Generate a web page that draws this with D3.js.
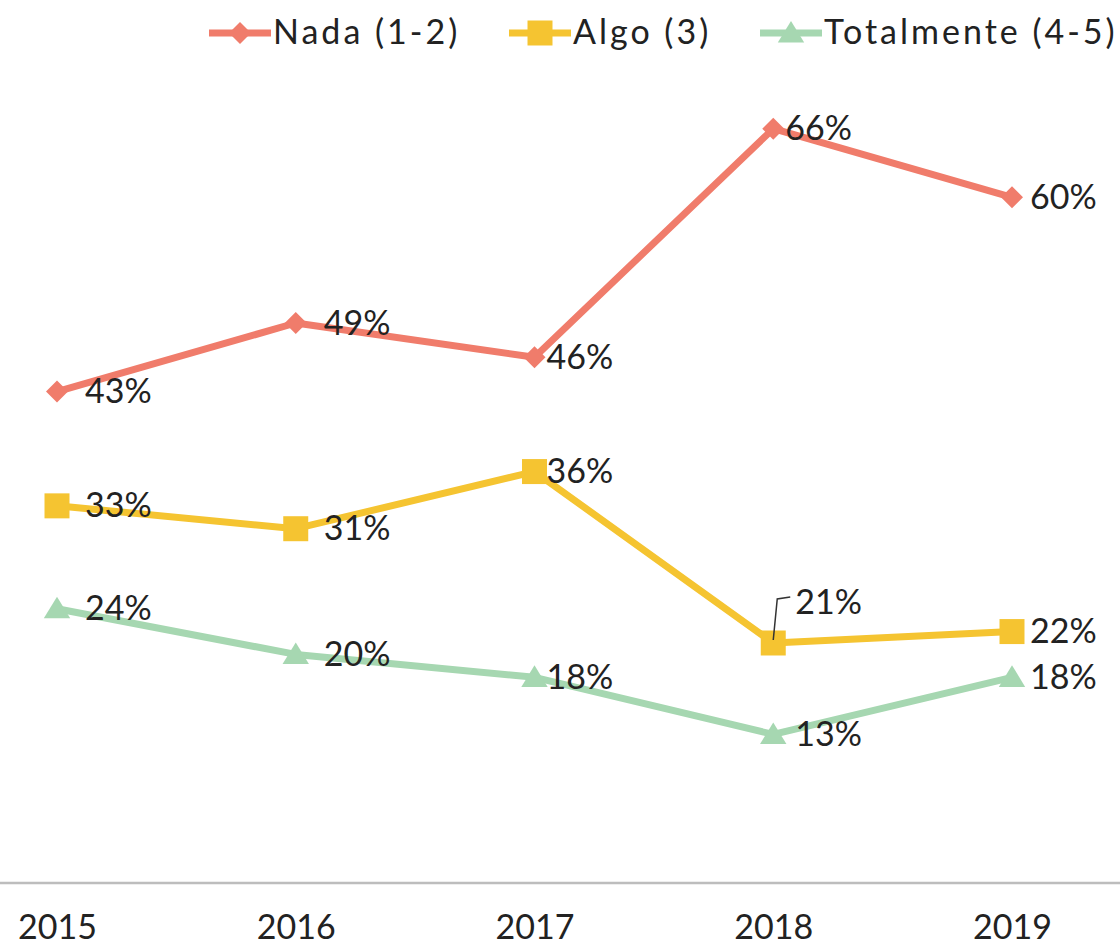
<!DOCTYPE html>
<html>
<head>
<meta charset="utf-8">
<script src="https://cdn.jsdelivr.net/npm/d3@7"></script>
<style>
  body { margin: 0; background: #fff; }
  text { font-family: Lato, "Open Sans", sans-serif; fill: #222; }
</style>
</head>
<body>
<div id="chart"></div>
<script>
// data
var years = ["2015", "2016", "2017", "2018", "2019"];
var nada = [0.43, 0.49, 0.46, 0.66, 0.60];
var algo = [0.33, 0.31, 0.36, 0.21, 0.22];
var totalmente = [0.24, 0.20, 0.18, 0.13, 0.18];
var seriesNames = ["Nada (1-2)", "Algo (3)", "Totalmente (4-5)"];

var width = 1120, height = 950;
var axisY = 883;

var svg = d3.select("#chart").append("svg")
    .attr("width", width)
    .attr("height", height);

var x = d3.scalePoint()
    .domain(years)
    .range([57, 1012]);

var y = d3.scaleLinear()
    .domain([0, 0.7])
    .range([axisY, 83]);

// marker shapes
function diamond(s) { return "M0," + (-s) + "L" + s + ",0L0," + s + "L" + (-s) + ",0Z"; }
function square(s) { return "M" + (-s) + "," + (-s) + "h" + 2*s + "v" + 2*s + "h" + (-2*s) + "Z"; }
function triangle(s) { return "M0," + (-s) + "L" + (s*1.1) + "," + (s*0.8) + "L" + (-s*1.1) + "," + (s*0.8) + "Z"; }

var series = [
  {name: seriesNames[0], values: nada, color: "#F07C6B", shape: diamond, size: 11},
  {name: seriesNames[1], values: algo, color: "#F5C431", shape: square, size: 12.5},
  {name: seriesNames[2], values: totalmente, color: "#A6D7B1", shape: triangle, size: 12}
];

// x axis line
svg.append("line")
    .attr("x1", 0).attr("x2", width)
    .attr("y1", axisY).attr("y2", axisY)
    .attr("stroke", "#bdbdbd")
    .attr("stroke-width", 2.5);

var xAxis = svg.append("g")
    .attr("transform", "translate(0," + axisY + ")")
    .call(d3.axisBottom(x).tickSize(0).tickPadding(32));
xAxis.select(".domain").remove();
xAxis.selectAll("text")
    .style("font-family", "Lato, sans-serif")
    .style("font-size", "34px")
    .attr("fill", "#222");

var line = d3.line()
    .x(function(d, i) { return x(years[i]); })
    .y(function(d) { return y(d); });

series.forEach(function(s) {
  svg.append("path")
      .datum(s.values)
      .attr("d", line)
      .attr("fill", "none")
      .attr("stroke", s.color)
      .attr("stroke-width", 7)
      .attr("stroke-linejoin", "round");

  svg.selectAll(null)
      .data(s.values)
      .enter().append("path")
      .attr("d", s.shape(s.size))
      .attr("transform", function(d, i) { return "translate(" + x(years[i]) + "," + y(d) + ")"; })
      .attr("fill", s.color);

  svg.selectAll(null)
      .data(s.values)
      .enter().append("text")
      .attr("x", function(d, i) {
        var dx = 28;
        if (i == 4) dx = 18;
        if (i == 2 || i == 3) dx = 12;
        if (s.name == seriesNames[1] && i == 3) dx = 22;
        if (s.name == seriesNames[2] && i == 3) dx = 22;
        return x(years[i]) + dx;
      })
      .attr("y", function(d, i) {
        var dy = 3;
        if (s.name == seriesNames[1] && i == 3) dy = -38;
        return y(d) + dy;
      })
      .attr("dominant-baseline", "middle")
      .style("font-size", "34px")
      .text(function(d) { return Math.round(d * 100) + "%"; });
});

// leader line for the 2018 Algo label
var lx = x(years[3]), ly = y(algo[3]);
svg.append("path")
    .attr("d", "M" + lx + "," + (ly - 3) + "L" + (lx + 4) + "," + (ly - 44) + "L" + (lx + 17) + "," + (ly - 46))
    .attr("fill", "none")
    .attr("stroke", "#333")
    .attr("stroke-width", 1.5);

// legend
var legendX = [209, 509, 760];
var legend = svg.selectAll(".legend")
    .data(series)
    .enter().append("g")
    .attr("class", "legend")
    .attr("transform", function(d, i) { return "translate(" + legendX[i] + ",33)"; });

legend.append("line")
    .attr("x1", 0).attr("x2", 62)
    .attr("stroke", function(d) { return d.color; })
    .attr("stroke-width", 7);
legend.append("path")
    .attr("d", function(d) { return d.shape(d.size); })
    .attr("transform", "translate(31,0)")
    .attr("fill", function(d) { return d.color; });
legend.append("text")
    .attr("x", 64)
    .attr("y", 2)
    .attr("dominant-baseline", "middle")
    .style("font-size", "34px")
    .style("letter-spacing", "3px")
    .text(function(d) { return d.name; });
</script>
</body>
</html>
